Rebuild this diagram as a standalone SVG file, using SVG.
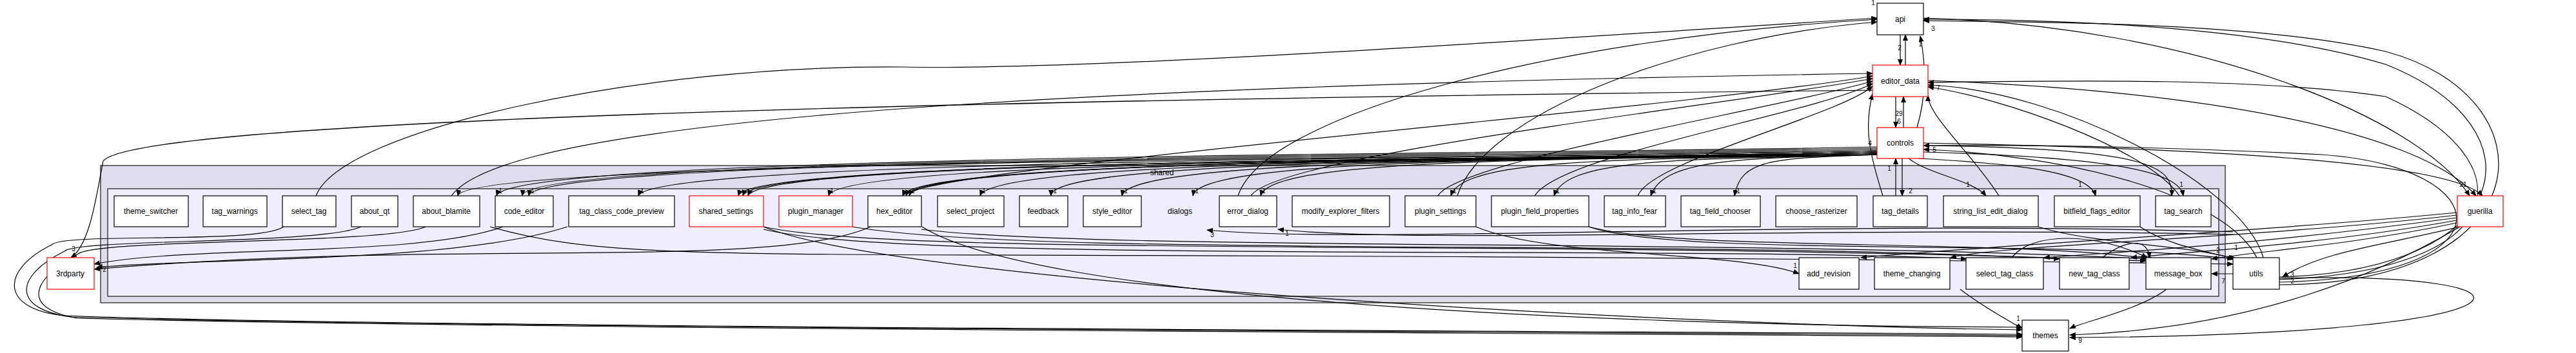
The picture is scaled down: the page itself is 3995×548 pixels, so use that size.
<svg xmlns="http://www.w3.org/2000/svg" width="3995" height="548" viewBox="0 0 3995 548">
<style>
.n rect{fill:#fff;stroke:#000;stroke-width:1.2}
.n.r rect{stroke:#f00}
text{font-family:"Liberation Sans",Arial,sans-serif;font-size:12px;text-anchor:middle;fill:#000}
.e path{fill:none;stroke:#000;stroke-width:1.2;marker-end:url(#a)}
.l text{font-size:10px}
</style>
<defs><marker id="a" markerWidth="10" markerHeight="8" refX="9" refY="4" orient="auto" markerUnits="userSpaceOnUse"><path d="M0,0 L10,4 L0,8 Z" fill="#000"/></marker></defs>
<g id="cluster_shared"><rect x="156" y="257" width="3295" height="213" fill="#ddddee" stroke="#404040" stroke-width="1.5"/><text x="1802" y="272">shared</text></g>
<g id="cluster_dialogs"><rect x="167" y="293" width="3274" height="167" fill="#eeeeff" stroke="#404040" stroke-width="1.5"/><text x="1830" y="332">dialogs</text></g>
<g id="edges" class="e">
<path d="M2911,228 C2400,240 790,238 770,304"/>
<path d="M2911,230 C2400,242 815,240 810,304"/>
<path d="M2911,232 C2400,244 830,242 820,304"/>
<path d="M2911,234 C2400,246 720,246 710,304"/>
<path d="M2911,234 C2400,246 1010,246 990,304"/>
<path d="M2911,236 C2400,248 1160,246 1145,304"/>
<path d="M2911,236 C2400,248 1170,246 1152,304"/>
<path d="M2911,236 C2400,248 1180,246 1160,304"/>
<path d="M2911,238 C2400,248 1300,246 1285,304"/>
<path d="M2911,238 C2400,248 1420,246 1400,304"/>
<path d="M2911,238 C2400,248 1425,246 1405,304"/>
<path d="M2911,238 C2400,248 1430,246 1410,304"/>
<path d="M2911,240 C2400,248 1540,246 1520,304"/>
<path d="M2911,240 C2400,248 1630,246 1630,304"/>
<path d="M2911,240 C2400,248 1750,246 1740,304"/>
<path d="M2911,240 C2400,248 1860,246 1850,304"/>
<path d="M2911,240 C2400,248 1970,246 1955,304"/>
<path d="M2911,240 C2500,248 2270,246 2250,304"/>
<path d="M2911,240 C2600,248 2430,246 2410,304"/>
<path d="M2911,240 C2700,246 2580,246 2560,304"/>
<path d="M2911,240 C2750,246 2700,246 2690,304"/>
<path d="M2950,246 L2950,304"/>
<path d="M2940,304 L2940,246"/>
<path d="M2960,246 C2990,270 3060,280 3080,304"/>
<path d="M2975,246 C3150,255 3240,270 3250,304"/>
<path d="M2983,236 C3300,245 3380,270 3386,304"/>
<path d="M2983,226 C3340,230 3370,260 3368,304"/>
<path d="M1400,304 C1430,260 2600,170 2904,118"/>
<path d="M1940,304 C1980,240 2700,160 2904,122"/>
<path d="M2230,304 C2260,250 2750,170 2904,126"/>
<path d="M2380,304 C2420,240 2800,180 2904,130"/>
<path d="M2540,304 C2560,250 2850,180 2904,134"/>
<path d="M2920,304 C2900,240 2890,200 2904,146"/>
<path d="M3100,304 C3060,240 2990,180 2990,148"/>
<path d="M3380,304 C3330,230 3100,150 2990,135"/>
<path d="M700,304 C760,220 1200,140 2904,114"/>
<path d="M490,304 C530,200 1000,100 1400,104 C1700,110 2400,60 2911,28"/>
<path d="M1920,304 C1960,180 2400,60 2911,30"/>
<path d="M2260,304 C2300,180 2600,60 2911,34"/>
<path d="M2947,54 L2947,101"/>
<path d="M2955,101 L2955,54"/>
<path d="M2940,150 L2940,198"/>
<path d="M2952,198 L2952,150"/>
<path d="M2973,198 C2990,140 2985,90 2978,56"/>
<path d="M2911,140 C1000,160 200,200 160,250 C150,300 140,380 110,400"/>
<path d="M440,352 C400,380 100,360 80,380 C0,420 0,480 100,490 C600,510 2800,515 3136,519"/>
<path d="M560,352 C500,380 120,370 100,390 C20,430 20,480 110,492 C700,510 2800,517 3136,521"/>
<path d="M660,352 C600,380 140,370 120,395 C40,440 40,480 120,494 C800,512 2800,519 3136,523"/>
<path d="M780,352 C650,400 300,380 146,410"/>
<path d="M880,352 C700,410 300,400 150,415"/>
<path d="M1350,352 C1200,420 700,370 146,418"/>
<path d="M1184,352 C1400,440 2600,505 3136,512"/>
<path d="M1430,352 C1600,460 2400,505 3136,508"/>
<path d="M760,352 C1000,420 1200,380 3463,410"/>
<path d="M1184,352 C1400,400 2400,370 3328,405"/>
<path d="M1184,356 C1400,410 2600,380 3050,402"/>
<path d="M1322,352 C1600,400 2600,370 3194,402"/>
<path d="M1429,356 C1700,390 2700,370 3330,402"/>
<path d="M2289,352 C2400,400 2700,390 2790,425"/>
<path d="M2464,352 C2600,400 3200,370 3463,402"/>
<path d="M2464,352 C2600,390 3100,370 3340,402"/>
<path d="M3161,352 C3250,380 3400,380 3465,402"/>
<path d="M3319,352 C3360,380 3420,390 3468,402"/>
<path d="M3463,360 C2800,340 2100,380 1872,357"/>
<path d="M3463,364 C2800,350 2200,380 1982,356"/>
<path d="M3120,400 C3150,360 3250,360 3330,400"/>
<path d="M3260,400 C3300,370 3330,370 3334,400"/>
<path d="M3463,425 L3430,425"/>
<path d="M3810,330 C3500,360 3100,380 2886,400"/>
<path d="M3810,334 C3500,370 3100,380 3025,400"/>
<path d="M3810,338 C3500,380 3300,390 3170,400"/>
<path d="M3810,342 C3600,380 3400,390 3305,400"/>
<path d="M3810,346 C3650,380 3500,390 3430,402"/>
<path d="M3815,352 C3700,380 3600,390 3540,430"/>
<path d="M3815,352 C3700,420 3500,510 3210,520"/>
<path d="M2983,28 C3400,40 3750,180 3830,304"/>
<path d="M2990,125 C3400,140 3750,200 3840,304"/>
<path d="M2983,222 C3400,230 3800,250 3850,304"/>
<path d="M3535,430 C3900,420 3950,200 3700,100 C3500,40 3200,30 2983,30"/>
<path d="M3535,434 C3900,420 3920,250 3700,150 C3500,120 3200,125 2990,128"/>
<path d="M3535,438 C3900,430 3880,260 3600,240 C3300,225 3100,225 2983,226"/>
<path d="M3535,442 C3950,440 3960,150 3700,80 C3500,35 3200,35 2983,32"/>
<path d="M3535,432 C3980,420 3980,520 3210,524"/>
<path d="M3040,449 C3080,480 3120,500 3136,510"/>
<path d="M3360,449 C3320,480 3230,500 3210,510"/>
<path d="M3500,400 C3450,300 3200,240 2983,232"/>
<path d="M3510,400 C3480,290 3200,140 2990,132"/>
</g>
<g class="l">
<text x="776" y="300">1</text><text x="826" y="300">1</text><text x="996" y="300">1</text><text x="1166" y="300">7</text><text x="1290" y="300">1</text><text x="1416" y="300">1</text><text x="1526" y="300">1</text><text x="1636" y="300">1</text><text x="1746" y="300">1</text><text x="1856" y="300">1</text><text x="1960" y="300">1</text><text x="2256" y="300">1</text><text x="2416" y="300">1</text><text x="2566" y="300">1</text><text x="2696" y="300">1</text><text x="2963" y="300">2</text><text x="3052" y="290">1</text><text x="3226" y="290">1</text><text x="3383" y="290">1</text><text x="114" y="390">3</text><text x="162" y="422">2</text><text x="1880" y="368">3</text><text x="1996" y="366">1</text><text x="2784" y="416">1</text><text x="2905" y="8">1</text><text x="2998" y="48">3</text><text x="2946" y="78">2</text><text x="2978" y="72">1</text><text x="2900" y="130">1</text><text x="3006" y="140">7</text><text x="2945" y="180">29</text><text x="2945" y="192">6</text><text x="2900" y="226">4</text><text x="3000" y="236">5</text><text x="2930" y="265">1</text><text x="3820" y="290">21</text><text x="3555" y="430">3</text><text x="3555" y="440">2</text><text x="3448" y="440">7</text><text x="3130" y="498">1</text><text x="3226" y="532">9</text><text x="3440" y="392">2</text><text x="3468" y="388">1</text>
</g>
<g id="api" class="n"><rect x="2911" y="5" width="72" height="49"/><text x="2947" y="34">api</text></g>
<g id="editor_data" class="n r"><rect x="2904" y="101" width="86" height="49"/><text x="2947" y="130">editor_data</text></g>
<g id="controls" class="n r"><rect x="2911" y="198" width="72" height="48"/><text x="2947" y="226">controls</text></g>
<g id="guerilla" class="n r"><rect x="3811" y="304" width="71" height="48"/><text x="3846" y="332">guerilla</text></g>
<g id="themes" class="n"><rect x="3136" y="497" width="72" height="48"/><text x="3172" y="525">themes</text></g>
<g id="utils" class="n"><rect x="3463" y="400" width="72" height="49"/><text x="3499" y="429">utils</text></g>
<g id="3rdparty" class="n r"><rect x="73" y="400" width="73" height="49"/><text x="109" y="429">3rdparty</text></g>
<g id="theme_switcher" class="n"><rect x="177" y="304" width="115" height="48"/><text x="234" y="332">theme_switcher</text></g>
<g id="tag_warnings" class="n"><rect x="315" y="304" width="99" height="48"/><text x="364" y="332">tag_warnings</text></g>
<g id="select_tag" class="n"><rect x="438" y="304" width="83" height="48"/><text x="479" y="332">select_tag</text></g>
<g id="about_qt" class="n"><rect x="545" y="304" width="72" height="48"/><text x="581" y="332">about_qt</text></g>
<g id="about_blamite" class="n"><rect x="641" y="304" width="103" height="48"/><text x="692" y="332">about_blamite</text></g>
<g id="code_editor" class="n"><rect x="768" y="304" width="90" height="48"/><text x="813" y="332">code_editor</text></g>
<g id="tag_class_code_preview" class="n"><rect x="882" y="304" width="164" height="48"/><text x="964" y="332">tag_class_code_preview</text></g>
<g id="shared_settings" class="n r"><rect x="1069" y="304" width="115" height="48"/><text x="1126" y="332">shared_settings</text></g>
<g id="plugin_manager" class="n r"><rect x="1208" y="304" width="114" height="48"/><text x="1265" y="332">plugin_manager</text></g>
<g id="hex_editor" class="n"><rect x="1346" y="304" width="83" height="48"/><text x="1387" y="332">hex_editor</text></g>
<g id="select_project" class="n"><rect x="1454" y="304" width="103" height="48"/><text x="1505" y="332">select_project</text></g>
<g id="feedback" class="n"><rect x="1581" y="304" width="75" height="48"/><text x="1618" y="332">feedback</text></g>
<g id="style_editor" class="n"><rect x="1680" y="304" width="90" height="48"/><text x="1725" y="332">style_editor</text></g>
<g id="error_dialog" class="n"><rect x="1891" y="304" width="89" height="48"/><text x="1935" y="332">error_dialog</text></g>
<g id="modify_explorer_filters" class="n"><rect x="2004" y="304" width="151" height="48"/><text x="2079" y="332">modify_explorer_filters</text></g>
<g id="plugin_settings" class="n"><rect x="2179" y="304" width="110" height="48"/><text x="2234" y="332">plugin_settings</text></g>
<g id="plugin_field_properties" class="n"><rect x="2313" y="304" width="151" height="48"/><text x="2388" y="332">plugin_field_properties</text></g>
<g id="tag_info_fear" class="n"><rect x="2488" y="304" width="95" height="48"/><text x="2535" y="332">tag_info_fear</text></g>
<g id="tag_field_chooser" class="n"><rect x="2607" y="304" width="123" height="48"/><text x="2668" y="332">tag_field_chooser</text></g>
<g id="choose_rasterizer" class="n"><rect x="2754" y="304" width="126" height="48"/><text x="2817" y="332">choose_rasterizer</text></g>
<g id="tag_details" class="n"><rect x="2905" y="304" width="84" height="48"/><text x="2947" y="332">tag_details</text></g>
<g id="string_list_edit_dialog" class="n"><rect x="3014" y="304" width="147" height="48"/><text x="3087" y="332">string_list_edit_dialog</text></g>
<g id="bitfield_flags_editor" class="n"><rect x="3186" y="304" width="133" height="48"/><text x="3252" y="332">bitfield_flags_editor</text></g>
<g id="tag_search" class="n"><rect x="3343" y="304" width="86" height="48"/><text x="3386" y="332">tag_search</text></g>
<g id="add_revision" class="n"><rect x="2790" y="400" width="93" height="49"/><text x="2836" y="429">add_revision</text></g>
<g id="theme_changing" class="n"><rect x="2907" y="400" width="117" height="49"/><text x="2965" y="429">theme_changing</text></g>
<g id="select_tag_class" class="n"><rect x="3049" y="400" width="120" height="49"/><text x="3109" y="429">select_tag_class</text></g>
<g id="new_tag_class" class="n"><rect x="3194" y="400" width="108" height="49"/><text x="3248" y="429">new_tag_class</text></g>
<g id="message_box" class="n"><rect x="3328" y="400" width="101" height="49"/><text x="3378" y="429">message_box</text></g>
</svg>
